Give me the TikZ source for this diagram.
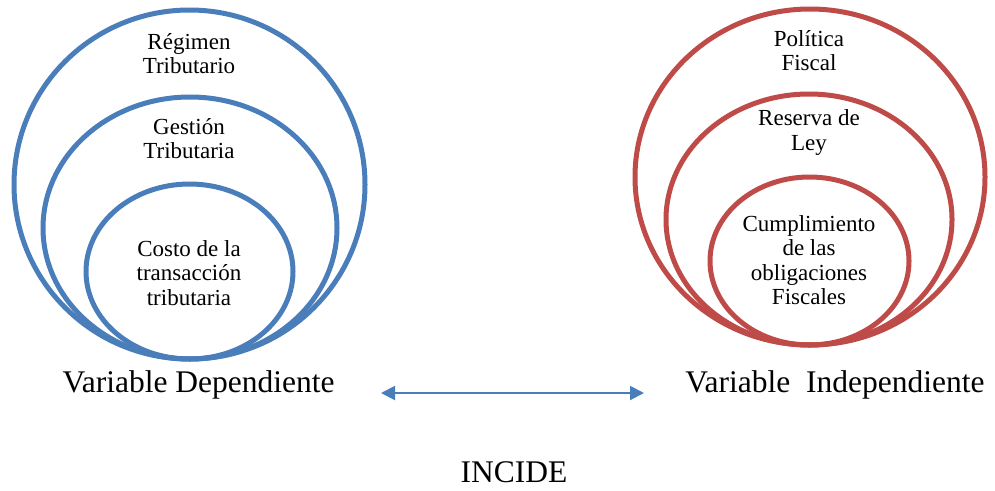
\documentclass[tikz,border=0pt]{standalone}
\usepackage{fontspec}
\setmainfont{Liberation Serif}
\usetikzlibrary{arrows.meta}
\definecolor{ringblue}{HTML}{4A7EBB}
\definecolor{ringred}{HTML}{BE4B48}
\tikzset{
  ringl/.style={draw=ringblue,line width=5pt},
  ringr/.style={draw=ringred,line width=5pt},
  ringtext/.style={align=center,font=\fontsize{23}{24.5}\selectfont,inner sep=0pt},
  vartext/.style={anchor=base,font=\fontsize{31.5}{34}\selectfont,inner sep=0pt}
}
\begin{document}
\begin{tikzpicture}[x=1pt,y=-1pt]
			\useasboundingbox (0,0) rectangle (995,490);
			% dependiente
			\draw[ringl] (189.5,184.5) ellipse (175.5pt and 174.5pt);
			\draw[ringl] (190,228) ellipse (147pt and 131pt);
			\draw[ringl] (189.5,271.5) ellipse (103.5pt and 87.5pt);
			\node[ringtext] (regimen) at (189,53.5) {Régimen\\Tributario};
			\node[ringtext] (gestion) at (189,138.5) {Gestión\\Tributaria};
			\node[ringtext] (costo) at (189,273) {Costo de la\\transacción\\tributaria};
			\node[vartext] (dep) at (198.5,392) {Variable Dependiente};
			% independiente
			\draw[ringr] (810,177) ellipse (175pt and 168pt);
			\draw[ringr] (809,219.5) ellipse (143pt and 125.5pt);
			\draw[ringr] (809.5,261) ellipse (99.5pt and 84pt);
			\node[ringtext] (politica) at (809,50.5) {Política\\Fiscal};
			\node[ringtext] (reserva) at (809,132.5) {Reserva de\\Ley};
			\node[ringtext] (cumpl) at (809,260) {Cumplimiento\\de las\\obligaciones\\Fiscales};
			\node[vartext] (indep) at (835,392) {Variable\ \ Independiente};
			% incide
			\coordinate (arrL) at (381,393);
			\coordinate (arrR) at (644,393);
			\draw[ringblue,line width=2pt,{Triangle[length=14pt,width=14pt]}-{Triangle[length=14pt,width=14pt]}] (arrL) -- (arrR);
			\node[vartext,text depth=0pt] (incide) at (514,482) {INCIDE};
\end{tikzpicture}
\end{document}
